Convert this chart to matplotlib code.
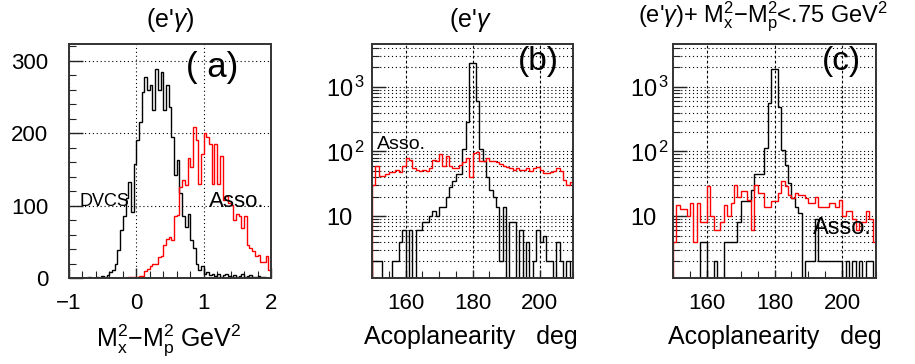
import numpy as np
import matplotlib
matplotlib.use("Agg")
import matplotlib.pyplot as plt
from matplotlib.ticker import FixedLocator, FixedFormatter, MultipleLocator, NullFormatter

plt.rcParams["font.family"] = ["Liberation Sans", "DejaVu Sans"]
plt.rcParams["mathtext.fontset"] = "custom"
plt.rcParams["mathtext.rm"] = "Liberation Sans"
plt.rcParams["mathtext.it"] = "Liberation Sans:italic"
plt.rcParams["mathtext.default"] = "regular"

# ---- (a) missing mass squared, 75 bins of 0.04 GeV^2 from -1 to 2 ----
mm_edges = np.linspace(-1.0, 2.0, 76)
mm_dvcs = [0, 0, 0, 0, 0, 0, 0, 1, 0, 0,
           2, 0, 3, 1, 4, 8, 11, 20, 38, 66,
           85, 110, 133, 91, 158, 190, 216, 257, 278, 259,
           266, 232, 289, 259, 285, 232, 266, 236, 195, 142,
           163, 117, 85, 71, 89, 52, 41, 20, 11, 16,
           5, 8, 4, 6, 3, 5, 2, 4, 6, 3,
           2, 4, 1, 3, 5, 2, 3, 4, 2, 2,
           3, 1, 2, 0, 0]
mm_asso = [0, 0, 0, 0, 0, 0, 0, 0, 0, 0,
           0, 0, 0, 0, 0, 0, 0, 0, 0, 0,
           0, 0, 1, 1, 1, 2, 3, 3, 9, 12,
           16, 20, 20, 29, 31, 45, 54, 56, 52, 85,
           87, 126, 135, 128, 165, 153, 208, 190, 130, 171,
           200, 195, 185, 130, 185, 130, 169, 107, 113, 103,
           101, 80, 89, 85, 69, 85, 45, 41, 37, 30,
           32, 22, 22, 30, 11]

# ---- (b) acoplanarity, 60 bins of 1 deg from 150 to 210 ----
acop_edges = np.arange(150, 211, 1)
acop_dvcs = [2, 2, 2, 1, 1, 1, 2, 2, 4, 6,
             1, 6, 1, 6, 6, 8, 8, 10, 12, 10,
             14, 14, 20, 28, 35, 45, 45, 110, 290, 2300,
             2300, 600, 110, 70, 40, 25, 20, 14, 2, 14,
             1, 8, 8, 1, 6, 1, 4, 1, 2, 6,
             4, 5, 2, 2, 1, 4, 2, 1, 2, 1]
acop_asso = [30, 60, 42, 42, 45, 48, 48, 52, 48, 60,
             80, 75, 55, 52, 50, 52, 50, 56, 75, 70,
             90, 60, 85, 60, 55, 55, 62, 68, 80, 40,
             95, 98, 70, 72, 80, 72, 72, 68, 64, 60,
             58, 55, 52, 56, 52, 52, 55, 50, 56, 58,
             52, 46, 46, 48, 50, 55, 50, 36, 30, 34]

# ---- (c) acoplanarity after the missing mass cut ----
cut_dvcs = [1, 1, 1, 1, 1, 1, 1, 1, 4, 4,
            1, 1, 2, 1, 1, 4, 4, 4, 4, 8,
            17, 17, 17, 25, 45, 45, 45, 115, 566, 1900,
            1900, 490, 106, 62, 33, 19, 14, 11, 1, 2,
            2, 2, 9, 2, 2, 2, 2, 2, 2, 2,
            1, 2, 1, 2, 1, 2, 1, 2, 2, 1]
cut_asso = [4, 15, 13, 13, 10, 16, 4, 16, 8, 8,
            29, 10, 6, 6, 8, 15, 10, 16, 30, 20,
            24, 24, 18, 6, 30, 23, 23, 14, 14, 17,
            17, 23, 35, 29, 21, 19, 23, 21, 21, 19,
            16, 16, 20, 14, 14, 14, 16, 16, 14, 18,
            10, 12, 12, 9, 6, 8, 8, 12, 9, 4]

log_labels = ["10", "10$^{\\,2}$", "10$^{\\,3}$"]

W, H = 915, 364
fig = plt.figure(figsize=(W / 100, H / 100), dpi=100)


def px_axes(left, right, top, bottom):
    return fig.add_axes([left / W, 1 - bottom / H, (right - left) / W, (bottom - top) / H])


def style_frame(ax):
    for sp in ax.spines.values():
        sp.set_color("#333333")
        sp.set_linewidth(1.4)
    ax.tick_params(which="both", direction="in", top=False, right=False,
                   color="#222222", labelsize=16)
    ax.tick_params(which="major", length=7, width=1.0)
    ax.tick_params(which="minor", length=5, width=0.8)


grid_dot = dict(color="black", linewidth=0.8, linestyle=(0, (1, 2.5)))
grid_dash = dict(color="black", linewidth=0.8, linestyle=(0, (2.5, 2)))

# ---------------- panel (a) ----------------
ax1 = px_axes(69, 271, 44, 278)
ax1.stairs(mm_dvcs, mm_edges, color="black", linewidth=1.0)
ax1.stairs(mm_asso, mm_edges, color="red", linewidth=1.0)
ax1.set_xlim(-1, 2)
ax1.set_ylim(0, 323)
ax1.xaxis.set_major_locator(FixedLocator([-1, 0, 1, 2]))
ax1.xaxis.set_major_formatter(FixedFormatter(["\u22121", "0", "1", "2"]))
ax1.xaxis.set_minor_locator(MultipleLocator(0.2))
ax1.yaxis.set_major_locator(FixedLocator([0, 100, 200, 300]))
ax1.yaxis.set_minor_locator(MultipleLocator(20))
style_frame(ax1)
ax1.tick_params(axis="y", which="major", length=10, pad=15)
ax1.tick_params(axis="x", which="major", pad=11)
ax1.grid(True, which="major", **grid_dot)
ax1.set_axisbelow(True)
ax1.text(1.12, 291, "( a)", fontsize=25, ha="center", va="center")
ax1.text(-0.84, 106, "DVCS", fontsize=13, ha="left", va="center")
ax1.text(1.075, 106, "Asso.", fontsize=16, ha="left", va="center")


def log_panel(left, right, dvcs, asso, lab_pad):
    ax = px_axes(left, right, 44, 278)
    ax.stairs(dvcs, acop_edges, baseline=1, color="black", linewidth=1.0)
    ax.stairs(asso, acop_edges, baseline=1, color="red", linewidth=1.0)
    ax.set_yscale("log")
    ax.set_xlim(150, 210)
    ax.set_ylim(1.1, 4600)
    ax.xaxis.set_major_locator(FixedLocator([160, 180, 200]))
    ax.xaxis.set_minor_locator(MultipleLocator(5))
    ax.yaxis.set_major_locator(FixedLocator([10, 100, 1000]))
    ax.yaxis.set_major_formatter(FixedFormatter(log_labels))
    minors = [m * 10 ** e for e in range(0, 4) for m in range(2, 10)]
    ax.yaxis.set_minor_locator(FixedLocator(minors))
    ax.yaxis.set_minor_formatter(NullFormatter())
    style_frame(ax)
    ax.tick_params(axis="y", which="major", length=10, pad=lab_pad, labelsize=17)
    ax.tick_params(axis="x", which="major", length=6, pad=11)
    for lbl in ax.get_yticklabels():
        lbl.set_horizontalalignment("left")
    ax.grid(True, axis="y", which="both", **grid_dot)
    ax.grid(True, axis="x", which="major", **grid_dash)
    ax.set_axisbelow(True)
    return ax


# ---------------- panel (b) ----------------
ax2 = log_panel(372, 573, acop_dvcs, acop_asso, 33)
ax2.text(199.6, 2440, "(b)", fontsize=24, ha="center", va="center")
ax2.text(151.5, 128, "Asso.", fontsize=14, ha="left", va="center")

# ---------------- panel (c) ----------------
ax3 = log_panel(673, 876, cut_dvcs, cut_asso, 31)
ax3.text(199.9, 2425, "(c)", fontsize=24, ha="center", va="center")
ax3.text(191.5, 6.5, "Asso.", fontsize=17, ha="left", va="center")

# titles and axis captions
fig.text(170 / W, 1 - 20 / H, "(e'$\\mathit{\\gamma}$)", fontsize=18, ha="center", va="center")
fig.text(470 / W, 1 - 20 / H, "(e'$\\mathit{\\gamma}$", fontsize=18, ha="center", va="center")
fig.text(638 / W, 1 - 17 / H, "(e'$\\mathit{\\gamma}$)+ M$_x^2$\u2212M$_p^2$<.75 GeV$^2$",
         fontsize=17, ha="left", va="center")
fig.text(169 / W, 1 - 340 / H, "M$_x^2$\u2212M$_p^2$ GeV$^2$", fontsize=18, ha="center", va="center")
fig.text(471 / W, 1 - 337 / H, "Acoplanearity   deg", fontsize=18, ha="center", va="center")
fig.text(775 / W, 1 - 337 / H, "Acoplanearity   deg", fontsize=18, ha="center", va="center")

fig.savefig("out.png", dpi=100)
